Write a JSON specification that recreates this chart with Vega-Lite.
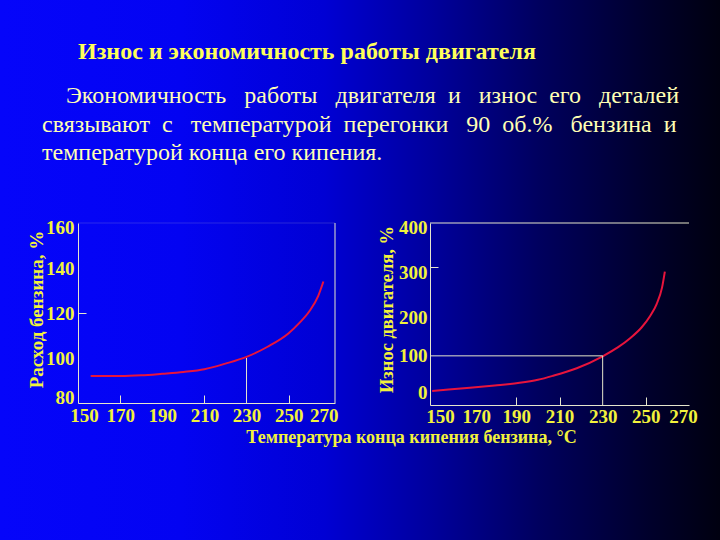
{
  "$schema": "https://vega.github.io/schema/vega-lite/v6.json",
  "width": 720,
  "height": 540,
  "autosize": "none",
  "padding": 0,
  "background": "#000060",
  "config": {
    "view": {"stroke": null},
    "axis": {
      "grid": false,
      "labelFont": "Liberation Serif",
      "labelFontWeight": "bold",
      "labelFontSize": 19,
      "labelColor": "#f2f23c",
      "labelOverlap": false,
      "labelFlush": false,
      "labelBound": false,
      "titleFont": "Liberation Serif",
      "titleFontWeight": "bold",
      "titleFontSize": 19,
      "titleColor": "#f2f23c",
      "domainColor": "#e6e6cc",
      "domainWidth": 1,
      "tickColor": "#e6e6cc"
    }
  },
  "title": {
    "text": "\u200b\u00a0\u00a0\u00a0\u00a0\u00a0\u00a0Износ и экономичность работы двигателя",
    "subtitle": [
      "\u200b\u00a0\u00a0\u00a0\u00a0Экономичность \u00a0\u00a0работы \u00a0\u00a0двигателя \u00a0и \u00a0\u00a0износ \u00a0его \u00a0\u00a0деталей",
      "связывают \u00a0с \u00a0\u00a0температурой \u00a0перегонки \u00a0\u00a090 \u00a0об.% \u00a0\u00a0бензина \u00a0и",
      "температурой конца его кипения."
    ],
    "anchor": "start",
    "frame": "group",
    "orient": "top",
    "offset": -165,
    "dx": 42,
    "font": "Liberation Serif",
    "fontSize": 24,
    "fontWeight": "bold",
    "color": "#ffff5a",
    "subtitleFont": "Liberation Serif",
    "subtitleFontSize": 24,
    "subtitleColor": "#ffffb4",
    "subtitleLineHeight": 28.5,
    "subtitlePadding": 20
  },
  "datasets": {
    "econ": [
      {"t": 156, "v": 92},
      {"t": 170, "v": 92},
      {"t": 180, "v": 92.3},
      {"t": 190, "v": 93},
      {"t": 200, "v": 93.8},
      {"t": 210, "v": 95},
      {"t": 220, "v": 97.5},
      {"t": 230, "v": 100.5},
      {"t": 240, "v": 105},
      {"t": 250, "v": 111},
      {"t": 255, "v": 115.5},
      {"t": 260, "v": 121},
      {"t": 264, "v": 127.5},
      {"t": 266.5, "v": 134}
    ],
    "econRules": [
      {"t": 230, "t2": 230, "v": 80, "v2": 100},
      {"t": 272, "t2": 272, "v": 80, "v2": 160}
    ],
    "econTop": [
      {"t": 150, "t2": 272, "v": 160, "v2": 160}
    ],
    "wear": [
      {"t": 151, "v": 20.5},
      {"t": 168.5, "v": 28},
      {"t": 180, "v": 33},
      {"t": 191.5, "v": 39},
      {"t": 200, "v": 46},
      {"t": 207, "v": 55},
      {"t": 218, "v": 72},
      {"t": 230, "v": 99},
      {"t": 237, "v": 119},
      {"t": 243, "v": 141},
      {"t": 248, "v": 164},
      {"t": 252, "v": 190},
      {"t": 255, "v": 217},
      {"t": 257.5, "v": 254},
      {"t": 258.8, "v": 290}
    ],
    "wearRules": [
      {"t": 230, "t2": 230, "v": -11, "v2": 100},
      {"t": 150, "t2": 230, "v": 100, "v2": 100},
      {"t": 150, "t2": 270, "v": 400, "v2": 400}
    ]
  },
  "layer": [
    {
      "data": {"values": [{}]},
      "mark": {
        "type": "rect",
        "fill": {
          "gradient": "linear",
          "x1": 0, "y1": 0, "x2": 1, "y2": 0,
          "stops": [
            {"offset": 0, "color": "#0505fa"},
            {"offset": 0.25, "color": "#0303f2"},
            {"offset": 0.45, "color": "#0000d4"},
            {"offset": 0.6, "color": "#00009c"},
            {"offset": 0.75, "color": "#00005e"},
            {"offset": 0.9, "color": "#00002c"},
            {"offset": 1, "color": "#000010"}
          ]
        }
      },
      "encoding": {}
    },
    {
      "data": {"name": "econ"},
      "mark": {"type": "line", "color": "#e8143c", "strokeWidth": 2, "interpolate": "monotone"},
      "encoding": {
        "x": {
          "field": "t", "type": "quantitative",
          "scale": {"domain": [150, 272], "range": [78, 335], "nice": false, "zero": false},
          "axis": {
            "zindex": 2,
            "orient": "bottom", "offset": -137, "values": [150, 170, 190, 210, 230, 250, 270], "ticks": false, "labelPadding": 3, "title": null,
            "labelOffset": {"condition": [{"test": "datum.value === 150", "value": 6}, {"test": "datum.value === 270", "value": -7}], "value": 0}
          }
        },
        "y": {
          "field": "v", "type": "quantitative",
          "scale": {"domain": [80, 160], "range": [403, 223], "nice": false, "zero": false},
          "axis": {
            "zindex": 2,
            "orient": "left", "offset": -78, "values": [80, 100, 120, 140, 160], "ticks": false, "labelPadding": 4,
            "labelOffset": {"condition": [{"test": "datum.value === 80", "value": -6}, {"test": "datum.value === 160", "value": 4}], "value": 0},
            "title": "Расход бензина, %", "titleX": -42, "titleY": 309, "titleAngle": -90, "titleBaseline": "middle", "titleAlign": "center"
          }
        }
      }
    },
    {
      "data": {"name": "econRules"},
      "mark": {"type": "rule", "color": "#e6e6cc", "strokeWidth": 1},
      "encoding": {
        "x": {
          "field": "t", "type": "quantitative",
          "scale": {"domain": [150, 272], "range": [78, 335], "nice": false, "zero": false},
          "axis": {"zindex": 2, "orient": "bottom", "offset": -137, "values": [170, 210, 250], "ticks": true, "tickSize": -8, "labels": false, "domain": false, "title": null}
        },
        "x2": {"field": "t2"},
        "y": {
          "field": "v", "type": "quantitative",
          "scale": {"domain": [80, 160], "range": [403, 223], "nice": false, "zero": false},
          "axis": {"zindex": 2, "orient": "left", "offset": -78, "values": [120], "ticks": true, "tickSize": -8, "labels": false, "domain": false, "title": null}
        },
        "y2": {"field": "v2"}
      }
    },
    {
      "data": {"name": "econTop"},
      "mark": {"type": "rule", "color": "#e6e6cc", "strokeWidth": 1, "opacity": 0.18},
      "encoding": {
        "x": {
          "field": "t", "type": "quantitative",
          "scale": {"domain": [150, 272], "range": [78, 335], "nice": false, "zero": false},
          "axis": null
        },
        "x2": {"field": "t2"},
        "y": {
          "field": "v", "type": "quantitative",
          "scale": {"domain": [80, 160], "range": [403, 223], "nice": false, "zero": false},
          "axis": null
        },
        "y2": {"field": "v2"}
      }
    },
    {
      "data": {"name": "wear"},
      "mark": {"type": "line", "color": "#e8143c", "strokeWidth": 2, "interpolate": "monotone"},
      "encoding": {
        "x": {
          "field": "t", "type": "quantitative",
          "scale": {"domain": [150, 270], "range": [430, 689], "nice": false, "zero": false},
          "axis": {
            "zindex": 2,
            "orient": "bottom", "offset": -135, "values": [150, 170, 190, 210, 230, 250, 270], "ticks": false, "labelPadding": 2,
            "labelOffset": {"condition": [{"test": "datum.value === 150", "value": 10}, {"test": "datum.value === 170", "value": 3}, {"test": "datum.value === 270", "value": -6}], "value": 0},
            "title": "Температура конца кипения бензина, °C", "titleFontSize": 18, "titleX": 411, "titleY": 23, "titleAlign": "center", "titleBaseline": "top"
          }
        },
        "y": {
          "field": "v", "type": "quantitative",
          "scale": {"domain": [-11, 400], "range": [405, 223], "nice": false, "zero": false},
          "axis": {
            "zindex": 2,
            "orient": "left", "offset": -430, "values": [0, 100, 200, 300, 400], "ticks": false, "labelPadding": 3,
            "labelOffset": {"condition": [{"test": "datum.value === 0", "value": -8}, {"test": "datum.value === 200", "value": 6}, {"test": "datum.value === 300", "value": 5}, {"test": "datum.value === 400", "value": 4}], "value": 0},
            "title": "Износ двигателя, %", "titleFontSize": 18.5, "titleX": -44, "titleY": 309, "titleAngle": -90, "titleBaseline": "middle", "titleAlign": "center"
          }
        }
      }
    },
    {
      "data": {"name": "wearRules"},
      "mark": {"type": "rule", "color": "#e6e6cc", "strokeWidth": 1},
      "encoding": {
        "x": {
          "field": "t", "type": "quantitative",
          "scale": {"domain": [150, 270], "range": [430, 689], "nice": false, "zero": false},
          "axis": {"zindex": 2, "orient": "bottom", "offset": -135, "values": [190, 210, 250], "ticks": true, "tickSize": -8, "labels": false, "domain": false, "title": null}
        },
        "x2": {"field": "t2"},
        "y": {
          "field": "v", "type": "quantitative",
          "scale": {"domain": [-11, 400], "range": [405, 223], "nice": false, "zero": false},
          "axis": {"zindex": 2, "orient": "left", "offset": -430, "values": [300], "ticks": true, "tickSize": -8, "labels": false, "domain": false, "title": null}
        },
        "y2": {"field": "v2"}
      }
    }
  ],
  "resolve": {
    "scale": {"x": "independent", "y": "independent"},
    "axis": {"x": "independent", "y": "independent"}
  }
}
